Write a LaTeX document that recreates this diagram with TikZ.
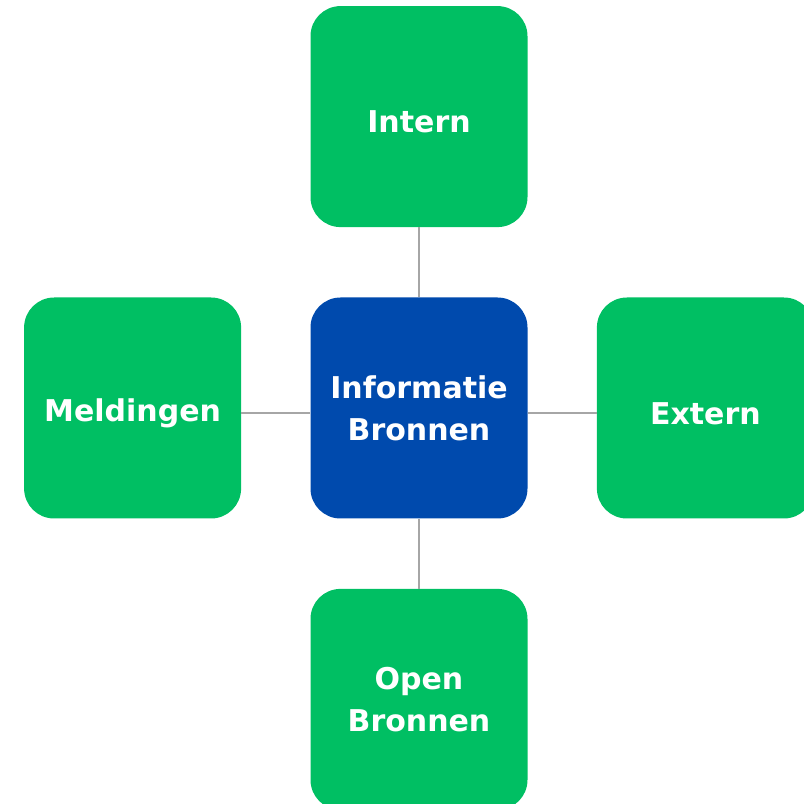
\documentclass[tikz,border=0pt]{standalone}
\usepackage{fontspec}
\setmainfont{DejaVu Sans}
\usetikzlibrary{positioning}
\definecolor{bronGreen}{HTML}{00BF63}
\definecolor{bronBlue}{HTML}{004AAD}
\definecolor{linkGray}{HTML}{A6A6A6}

\begin{document}
\begin{tikzpicture}[
	x = 1pt, y = 1pt,
	node distance = 70pt, % gap between boxes
	B/.style={rectangle, rounded corners=30pt, minimum width=217pt, minimum height=221pt, inner sep=0pt, text=white, align=center, font=\fontsize{30}{42}\selectfont\bfseries, execute at begin node={\rule{0pt}{33pt}}},
	G/.style={B, fill=bronGreen},
	C/.style={B, fill=bronBlue},
	L/.style={draw=linkGray, line width=1.3pt},
	]
	\useasboundingbox (0,0) rectangle (804,804);

	% Nodes and their relative positions
	\node[C] (info) at (419,396) {Informatie\\Bronnen};
	\node[G] (intern)  [above = of info] {Intern};
	\node[G] (meld)    [left = 69pt of info] {Meldingen};
	\node[G] (extern)  [right = 69pt of info] {Extern};
	\node[G] (open)    [below = of info] {Open\\Bronnen};

	% Paths connecting nodes
	\path[L] (info) edge (intern);
	\path[L] ([yshift=-5pt]info.west) edge ([yshift=-5pt]meld.east);
	\path[L] ([yshift=-5pt]info.east) edge ([yshift=-5pt]extern.west);
	\path[L] (info) edge (open);

\end{tikzpicture}
\end{document}
